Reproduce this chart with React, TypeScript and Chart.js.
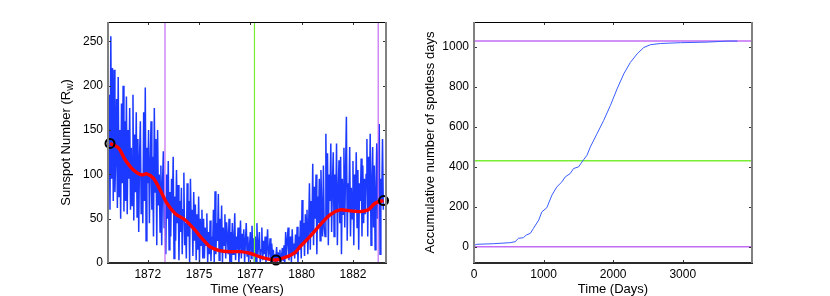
import React, { useEffect, useRef } from "react";
import { Chart, registerables } from "chart.js";

Chart.register(...registerables);

// ---------- Left panel data ----------
const SUNSPOT_START_YEAR = 1870.62;
const SUNSPOT_STEP_YEARS = 0.04;
const sunspotDaily = [
  190, 60, 256, 95, 220, 70, 218, 80,
  120, 185, 62, 210, 75, 150, 50, 180, 90, 200, 58, 160,
  70, 188, 55, 150, 95, 175, 60, 130, 65, 190, 48, 145, 80, 170, 52,
  140, 35, 120, 160, 55, 100, 45, 170, 70, 198, 25, 130, 90, 150, 45, 110, 160, 60, 120, 30, 175, 80, 140, 20, 150, 65, 100, 35,
  110, 20, 90, 126, 40, 70, 10, 100, 50, 115, 15, 80, 30, 95, 60, 120, 5, 75, 25, 105, 45, 88, 3, 70, 35,
  85, 10, 60, 102, 20, 45, 5, 90, 30, 70, 0, 95, 40, 60, 8, 80, 25, 66, 3, 55, 15, 75, 0, 50, 20, 60, 5,
  50, 5, 40, 20, 56, 0, 35, 10, 48, 2, 30, 15,
  60, 0, 81, 10, 45, 25, 78, 3, 50, 12, 65, 0, 40, 20, 55, 5, 46, 30, 10, 50, 0,
  35, 0, 45, 10, 25, 56, 3, 30, 15, 40, 0, 20, 48, 5, 33, 12, 38, 0, 25, 45, 8, 30, 0, 20, 35, 5, 42, 10, 28, 0,
  30, 0, 45, 8, 20, 35, 0, 15, 40, 3, 25, 10, 30, 0, 18, 38, 5, 12, 28, 0, 22, 8, 15, 0, 10,
  5, 18, 0, 12, 3, 15, 0, 8, 17, 2,
  20, 0, 35, 8, 26, 40, 3, 15, 30, 0, 38, 10, 22, 5, 32,
  10, 41, 0, 30, 15, 48, 5, 71, 20, 45, 8, 55, 25, 60, 10,
  40, 90, 15, 70, 35, 112, 20, 86, 50, 100, 10, 75, 45, 95, 25, 105, 60, 30, 110, 40,
  30, 146, 50, 124, 20, 100, 70, 135, 35, 90,
  125, 30, 100, 60, 135, 20, 80, 116, 45, 120, 10, 95, 55, 130, 40, 105, 165, 25, 90, 60,
  131, 30, 85, 50, 115, 20, 100, 60, 125, 40, 105, 15, 90, 70, 118, 30, 110, 45, 95, 55,
  100, 140, 30, 120, 60, 146, 20, 90, 131, 40, 110, 15, 80, 135, 50, 125, 157, 10, 95, 70, 140, 60,
];

const smoothYears = [
  1870.66, 1871.07, 1871.4, 1871.8, 1872.2, 1872.45, 1872.77, 1873.1, 1873.43, 1873.83,
  1874.32, 1874.8, 1875.05, 1875.29, 1875.53, 1876.0, 1876.5, 1876.99, 1877.48, 1877.97,
  1878.46, 1878.75, 1879.19, 1879.43, 1879.68, 1879.92, 1880.4, 1880.9, 1881.38, 1881.87,
  1882.36, 1882.84, 1883.25, 1883.58, 1883.99,
];
const smoothValues = [
  135, 130, 116.5, 105, 99.5, 100.7, 95.8, 82.6, 67.5, 56,
  48.6, 37.3, 30, 24, 18.4, 14, 12.8, 12.8, 11, 7,
  4.1, 3.4, 6.4, 8.5, 12, 18.4, 29.8, 43, 54.3, 60,
  58.8, 58, 60, 67.5, 70.5,
];

const markerYears = [1870.66, 1878.75, 1883.99];
const markerValues = [135, 3.4, 70.5];

const PURPLE = "#c36cf5";
const GREEN = "#77ee33";
const leftLineYears = [1873.34, 1877.7, 1883.73];
const leftLineColors = [PURPLE, GREEN, PURPLE];

const yearTicks = [1872.5, 1875, 1877.5, 1880, 1882.5];
const yearTickLabels = ["1872", "1875", "1877", "1880", "1882"];
const sunspotTicks = [0, 50, 100, 150, 200, 250];

// ---------- Right panel data ----------
const dayValues = [
  0, 40, 280, 520, 590, 640, 710, 750, 810, 855, 930, 975, 1047, 1120, 1190, 1263, 1311, 1383,
  1431, 1503, 1575, 1623, 1671, 1768, 1863, 1960, 2056, 2152, 2248, 2344, 2440, 2536, 2680,
  2968, 3353, 3641, 3785,
];
const accumValues = [
  7, 12, 15, 20, 25, 42, 45, 58, 67, 92, 133, 174, 195, 258, 299, 324, 349, 366,
  391, 399, 435, 457, 498, 565, 631, 706, 789, 864, 922, 964, 996, 1010, 1016,
  1020, 1023, 1028, 1028,
];
const rightLineValues = [1028, 430, 0];
const rightLineColors = [PURPLE, GREEN, PURPLE];
const dayTicks = [0, 1000, 2000, 3000];
const accumTicks = [0, 200, 400, 600, 800, 1000];

const FONT = "'Liberation Sans', Arial, Helvetica, sans-serif";

const framePlugin = {
  id: "frame",
  afterDatasetsDraw(chart: any) {
    const { ctx, chartArea: a, scales } = chart;
    const xs = scales.x;
    const ys = scales.y;
    ctx.save();
    ctx.strokeStyle = "#333";
    ctx.lineWidth = 1;
    const seg = (x1: number, y1: number, x2: number, y2: number) => {
      ctx.beginPath();
      ctx.moveTo(x1, y1);
      ctx.lineTo(x2, y2);
      ctx.stroke();
    };
    xs.ticks.forEach((t: any) => {
      const p = Math.round(xs.getPixelForValue(t.value)) + 0.5;
      seg(p, a.bottom, p, a.bottom - 3);
      seg(p, a.top, p, a.top + 3);
    });
    ys.ticks.forEach((t: any) => {
      const p = Math.round(ys.getPixelForValue(t.value)) + 0.5;
      seg(a.left, p, a.left + 3, p);
      seg(a.right, p, a.right - 3, p);
    });
    ctx.strokeStyle = "#000";
    ctx.lineWidth = 1;
    seg(a.left, Math.round(a.top) + 0.5, a.right, Math.round(a.top) + 0.5);
    ctx.strokeStyle = "#2a2a2a";
    ctx.lineWidth = 2;
    seg(a.left - 1, a.bottom, a.right + 1, a.bottom);
    ctx.strokeStyle = "#808080";
    ctx.lineWidth = 2;
    seg(a.left, a.top, a.left, a.bottom);
    seg(a.right, a.top, a.right, a.bottom);
    ctx.restore();
  },
};

const titlesPlugin = {
  id: "axisTitles",
  afterDraw(chart: any, _args: any, opts: any) {
    const { ctx, chartArea: a } = chart;
    ctx.save();
    ctx.fillStyle = "#000";
    ctx.font = `13px ${FONT}`;
    ctx.textBaseline = "middle";
    ctx.textAlign = "center";
    ctx.fillText(opts.xTitle, (a.left + a.right) / 2, opts.xTitleY);
    const segs: { text: string; sub?: boolean }[] = opts.yTitle;
    ctx.translate(opts.yTitleX, (a.top + a.bottom) / 2);
    ctx.rotate(-Math.PI / 2);
    ctx.textAlign = "left";
    let total = 0;
    const widths = segs.map((s) => {
      ctx.font = s.sub ? `10px ${FONT}` : `13px ${FONT}`;
      const w = ctx.measureText(s.text).width;
      total += w;
      return w;
    });
    let x = -total / 2;
    segs.forEach((s, i) => {
      ctx.font = s.sub ? `10px ${FONT}` : `13px ${FONT}`;
      ctx.fillText(s.text, x, s.sub ? 4 : 0);
      x += widths[i];
    });
    ctx.restore();
  },
};

function tickAxis(
  min: number,
  max: number,
  values: number[],
  fitSize: number,
  isX: boolean,
  labels?: string[]
) {
  return {
    type: "linear",
    min,
    max,
    afterBuildTicks: (scale: any) => {
      scale.ticks = values.map((v) => ({ value: v }));
    },
    afterFit: (scale: any) => {
      if (isX) scale.height = fitSize;
      else scale.width = fitSize;
    },
    grid: { display: false, drawTicks: false },
    border: { display: false },
    ticks: {
      autoSkip: false,
      maxRotation: 0,
      padding: isX ? 4 : 5,
      color: "#000",
      font: { family: FONT, size: 12 },
      callback: (v: number, i: number) => (labels ? labels[i] : String(v)),
    },
  };
}

function LeftChart() {
  const ref = useRef<HTMLCanvasElement>(null);
  useEffect(() => {
    const noisy = sunspotDaily.map((v, i) => ({
      x: SUNSPOT_START_YEAR + i * SUNSPOT_STEP_YEARS,
      y: v,
    }));
    const smooth = smoothYears.map((x, i) => ({ x, y: smoothValues[i] }));
    const markers = markerYears.map((x, i) => ({ x, y: markerValues[i] }));
    const vlines = leftLineYears.map((x, i) => ({
      data: [
        { x, y: 0 },
        { x, y: 272 },
      ],
      borderColor: leftLineColors[i],
      borderWidth: 1.2,
      pointRadius: 0,
      order: 2,
    }));
    const chart = new Chart(ref.current!, {
      type: "line",
      data: {
        datasets: [
          {
            data: markers,
            showLine: false,
            pointRadius: 4.5,
            pointBorderWidth: 2,
            pointBorderColor: "#000",
            pointBackgroundColor: "rgba(0,0,0,0)",
            clip: false,
            order: 0,
          },
          {
            data: smooth,
            borderColor: "#ff0000",
            borderWidth: 3.4,
            pointRadius: 0,
            tension: 0.3,
            order: 1,
          },
          ...vlines,
          {
            data: noisy,
            borderColor: "rgb(28,58,255)",
            borderWidth: 1.5,
            pointRadius: 0,
            tension: 0,
            order: 3,
          },
        ] as any,
      },
      options: {
        animation: false,
        responsive: false,
        events: [],
        layout: { padding: { left: 0, right: 29, top: 22, bottom: 0 } },
        plugins: {
          legend: { display: false },
          tooltip: { enabled: false },
          axisTitles: {
            xTitle: "Time (Years)",
            xTitleY: 289,
            yTitleX: 66,
            yTitle: [{ text: "Sunspot Number (R" }, { text: "w", sub: true }, { text: ")" }],
          },
        } as any,
        scales: {
          x: tickAxis(1870.563, 1884.11, yearTicks, 33, true, yearTickLabels),
          y: tickAxis(0, 272, sunspotTicks, 108, false),
        } as any,
      },
      plugins: [framePlugin, titlesPlugin],
    });
    return () => chart.destroy();
  }, []);
  return (
    <canvas
      ref={ref}
      width={415}
      height={296}
      style={{ position: "absolute", left: 0, top: 0, width: 415, height: 296 }}
    />
  );
}

function RightChart() {
  const ref = useRef<HTMLCanvasElement>(null);
  useEffect(() => {
    const curve = dayValues.map((x, i) => ({ x, y: accumValues[i] }));
    const hlines = rightLineValues.map((y, i) => ({
      data: [
        { x: 0, y },
        { x: 3995, y },
      ],
      borderColor: rightLineColors[i],
      borderWidth: 1.5,
      pointRadius: 0,
      order: 2,
    }));
    const chart = new Chart(ref.current!, {
      type: "line",
      data: {
        datasets: [
          {
            data: curve,
            borderColor: "#3a5cff",
            borderWidth: 1,
            pointRadius: 0,
            tension: 0,
            order: 1,
          },
          ...hlines,
        ] as any,
      },
      options: {
        animation: false,
        responsive: false,
        events: [],
        layout: { padding: { left: 0, right: 78, top: 22, bottom: 0 } },
        plugins: {
          legend: { display: false },
          tooltip: { enabled: false },
          axisTitles: {
            xTitle: "Time (Days)",
            xTitleY: 289,
            yTitleX: 15,
            yTitle: [{ text: "Accumulative number of spotless days" }],
          },
        } as any,
        scales: {
          x: tickAxis(0, 3995, dayTicks, 33, true),
          y: tickAxis(-81.5, 1123.5, accumTicks, 59, false),
        } as any,
      },
      plugins: [framePlugin, titlesPlugin],
    });
    return () => chart.destroy();
  }, []);
  return (
    <canvas
      ref={ref}
      width={415}
      height={296}
      style={{ position: "absolute", left: 415, top: 0, width: 415, height: 296 }}
    />
  );
}

export default function App() {
  return (
    <div
      style={{
        position: "absolute",
        left: 0,
        top: 0,
        width: 830,
        height: 296,
        background: "#fff",
        overflow: "hidden",
      }}
    >
      <LeftChart />
      <RightChart />
    </div>
  );
}
